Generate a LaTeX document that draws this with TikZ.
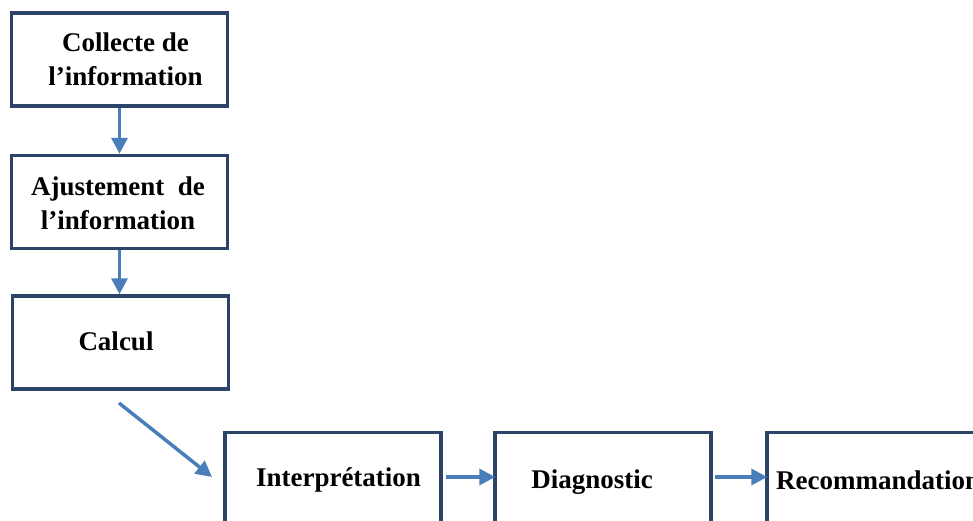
\documentclass[tikz,border=0pt]{standalone}
\usepackage{fontspec}
\setmainfont{Liberation Serif}
\usetikzlibrary{arrows.meta,calc}
\definecolor{boxline}{HTML}{2C4468}
\definecolor{flow}{HTML}{4A7EBB}
\begin{document}
\begin{tikzpicture}[x=1pt,y=-1pt,
  stepbox/.style={draw=boxline,line width=3.5pt,fill=white,minimum width=216pt,minimum height=93pt,inner sep=0pt},
  lbl/.style={font=\bfseries\fontsize{27}{34}\selectfont,align=center,inner sep=0pt},
  flowarrow/.style={draw=flow,line width=3.5pt,-{Triangle[length=16pt,width=16pt]}}]
\useasboundingbox (0,0) rectangle (973,520);
\clip (0,0) rectangle (973,520);
\fill[white] (0,0) rectangle (973,520);
% left column
\node[stepbox] (b1) at (119.5,59.5) {};
\node[stepbox] (b2) at (119.5,202) {};
\node[stepbox] (b3) at (120.5,342.5) {};
% bottom row
\node[stepbox] (b4) at (333,479) {};
\node[stepbox] (b5) at (603,479) {};
\node[stepbox] (b6) at (875,479) {};
% texts
\node[lbl] (t1) at (125.5,59) {Collecte de\\l’information};
\node[lbl] (t2) at (118,203) {Ajustement\ \ de\\l’information};
\node[lbl] (t3) at (116,341) {Calcul};
\node[lbl] (t4) at (338.5,480) {Interprétation};
\node[lbl] (t5) at (592,482) {Diagnostic};
\node[lbl,anchor=west] (t6) at (776,480) {Recommandation};
% connectors
\draw[flowarrow] (b1.south) -- (b2.north);
\draw[flowarrow] (b2.south) -- (b3.north -| b2.south);
\coordinate (d0) at (119,403);
\coordinate (d1) at (212,477);
\draw[flowarrow] (d0) -- (d1);
\draw[flowarrow] ($(b4.east)+(3,-2)$) -- ($(b5.west)+(2,-2)$);
\draw[flowarrow] ($(b5.east)+(2,-2)$) -- ($(b6.west)+(2,-2)$);
\end{tikzpicture}
\end{document}
